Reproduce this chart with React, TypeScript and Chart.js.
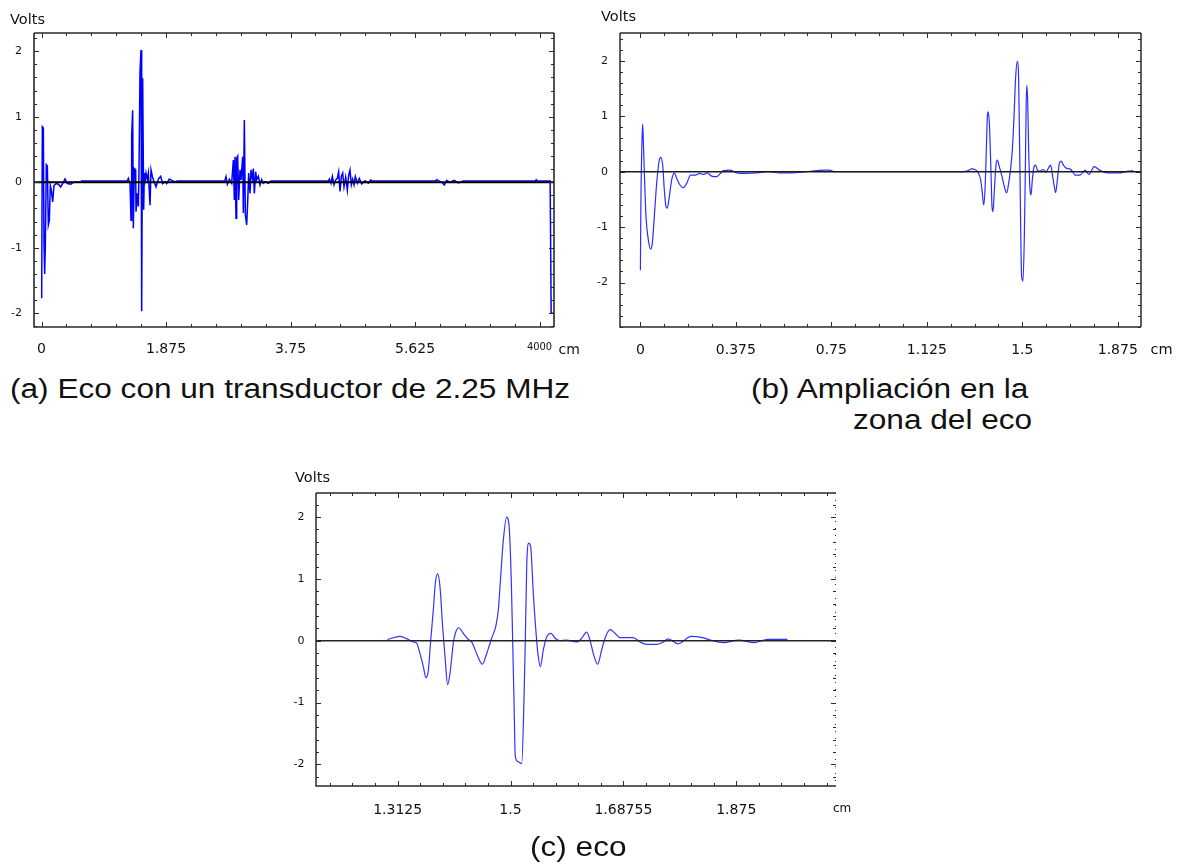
import React, { useEffect, useRef } from "react";
import { Chart, registerables } from "chart.js";

Chart.register(...registerables);

// ---------- shared tick labels ----------
const voltTicks = [-2, -1, 0, 1, 2];
const voltLabels = ["-2", "-1", "0", "1", "2"];

// ---------- (a) Eco con un transductor de 2.25 MHz ----------
const scanA_ticks = [0, 1.875, 3.75, 5.625, 7.5];
const scanA_tickLabels = ["0", "1.875", "3.75", "5.625", "4000"];
const scanA_cm = [
  0.0025, 0.0125, 0.0276, 0.0377, 0.0477, 0.0577, 0.0728, 0.0878, 0.1029, 0.118, 0.133, 0.148, 0.168, 0.188,
  0.218, 0.253, 0.289, 0.329, 0.354, 0.389, 0.44, 0.48, 0.6, 0.605, 1.29,
  1.3077, 1.3328, 1.3479, 1.3579, 1.373, 1.383, 1.3981, 1.4182, 1.4232, 1.4433, 1.4583, 1.4684, 1.4834,
  1.4985, 1.5085, 1.5236, 1.5387, 1.5487, 1.5637, 1.5738, 1.5939, 1.6089, 1.634, 1.6491, 1.6691, 1.6943,
  1.7244, 1.7595, 1.7947, 1.8248, 1.8599, 1.885, 1.9252, 1.9603, 2.0105, 2.05, 2.76,
  2.7786, 2.7986, 2.8288, 2.864, 2.889, 2.9041, 2.9142, 2.9292, 2.9393, 2.9543, 2.9694, 2.9895, 3.0045,
  3.0296, 3.0397, 3.0547, 3.0698, 3.0899, 3.1049, 3.12, 3.1401, 3.1551, 3.1752, 3.1902, 3.2053, 3.2254,
  3.2405, 3.2656, 3.2907, 3.3158, 3.3409, 3.366, 3.4162, 3.4413, 3.46, 4.32,
  4.3348, 4.36, 4.38, 4.405, 4.43, 4.455, 4.475, 4.4955, 4.5155, 4.5356, 4.5557, 4.5808, 4.6059, 4.626,
  4.646, 4.666, 4.686, 4.706, 4.726, 4.756, 4.786, 4.822, 4.872, 4.922, 4.957, 4.98, 5.94,
  5.951, 6.027, 6.066, 6.101, 6.152, 6.217, 6.277, 6.352, 6.503, 7.44, 7.45, 7.47, 7.66, 7.675, 7.718,
];
const scanA_volts = [
  -1.77, 0.85, 0.83, -0.95, -1.4, -0.96, 0.27, 0.25, -0.65, -0.58, -0.05, -0.12, -0.3, -0.05,
  -0.02, -0.03, -0.07, 0.0, 0.05, -0.02, -0.03, 0.0, 0.0, 0.02, 0.02,
  0.06, -0.02, -0.58, 0.7, 1.1, -0.7, 0.21, 0.19, -0.45, -0.17, -0.37, 0.19, 1.69,
  2.02, -1.97, 1.59, -0.42, 0.14, 0.04, 0.14, 0.04, 0.14, -0.35, 0.19, 0.09, 0.01,
  -0.07, 0.05, 0.09, -0.02, 0.01, -0.02, 0.05, 0.03, 0.01, 0.02, 0.02,
  0.087, -0.03, 0.046, -0.015, 0.34, -0.27, 0.39, -0.55, 0.37, 0.4, -0.27, 0.19, 0.036,
  0.39, -0.47, 0.95, -0.5, -0.65, -0.3, 0.14, -0.17, 0.19, 0.06, 0.21, -0.17, 0.16,
  0.04, 0.09, -0.04, 0.04, -0.015, 0.01, -0.015, 0.01, 0.02, 0.02,
  0.05, -0.015, 0.09, -0.04, 0.036, 0.06, 0.16, -0.14, 0.09, 0.14, -0.07, 0.08, -0.12, 0.11,
  0.19, -0.04, 0.046, -0.04, 0.09, -0.015, 0.06, -0.025, 0.025, -0.015, 0.035, 0.02, 0.02,
  0.04, 0.0, -0.04, 0.03, 0.0, 0.03, -0.01, 0.02, 0.02, 0.02, 0.04, 0.02, 0.02, -2.0, -2.0,
];

// ---------- (b) Ampliación en la zona del eco ----------
const zoomB_ticks = [0, 0.375, 0.75, 1.125, 1.5, 1.875];
const zoomB_tickLabels = ["0", "0.375", "0.75", "1.125", "1.5", "1.875"];
const zoomB_cm = [
  0.0, 0.002, 0.0063, 0.0089, 0.0115, 0.0154, 0.022, 0.0312, 0.0403, 0.0469, 0.0547, 0.0639, 0.0731,
  0.0796, 0.0875, 0.094, 0.1006, 0.1058, 0.1136, 0.1228, 0.1333, 0.1425, 0.1555, 0.1686, 0.1817, 0.1974,
  0.2145, 0.2341, 0.2472, 0.2629, 0.2799, 0.2996, 0.3126, 0.3257, 0.3519, 0.3781, 0.4174, 0.457, 0.5,
  0.546, 0.591, 0.65, 0.724, 0.742, 0.76, 1.27,
  1.288, 1.3011, 1.3142, 1.3273, 1.3365, 1.343, 1.3483, 1.3535, 1.3587, 1.3627, 1.3666, 1.3718, 1.3771,
  1.381, 1.3849, 1.3902, 1.3967, 1.4019, 1.4098, 1.419, 1.4294, 1.4386, 1.4464, 1.4543, 1.4608, 1.4674,
  1.4739, 1.4805, 1.4857, 1.4897, 1.4923, 1.4949, 1.4975, 1.5028, 1.508, 1.5119, 1.5145, 1.5171, 1.5211,
  1.525, 1.5302, 1.5342, 1.5394, 1.546, 1.5525, 1.559, 1.5695, 1.5826, 1.5931, 1.6022, 1.6114, 1.6193,
  1.6258, 1.6311, 1.6376, 1.6454, 1.652, 1.6612, 1.6743, 1.6873, 1.7004, 1.707, 1.727, 1.747, 1.762,
  1.782, 1.806, 1.838, 1.884, 1.916, 1.936,
];
const zoomB_volts = [
  -1.78, -0.55, 0.57, 0.86, 0.57, 0.0, -0.81, -1.23, -1.4, -1.29, -0.81, -0.21, 0.18,
  0.26, 0.12, -0.33, -0.63, -0.66, -0.45, -0.15, -0.02, -0.12, -0.24, -0.29, -0.21, -0.06,
  -0.06, -0.03, -0.05, -0.02, -0.08, -0.09, -0.04, 0.02, 0.03, -0.02, -0.03, -0.02, 0.0,
  -0.02, -0.02, 0.0, 0.03, 0.03, 0.0, 0.0,
  0.02, 0.05, 0.04, -0.02, -0.15, -0.39, -0.6, -0.33, 0.39, 0.99, 1.08, 0.75, -0.03,
  -0.63, -0.72, -0.33, 0.12, 0.21, 0.09, -0.06, -0.27, -0.38, -0.21, 0.06, 0.39, 0.99,
  1.71, 1.99, 1.65, 0.39, -0.51, -1.41, -1.9, -1.97, -1.17, 0.0, 0.99, 1.56, 1.29,
  0.39, -0.33, -0.42, -0.15, 0.09, 0.12, 0.03, 0.01, 0.04, -0.01, 0.06, 0.12, -0.09,
  -0.27, -0.38, -0.15, 0.15, 0.19, 0.12, 0.06, 0.05, -0.02, -0.06, -0.06, 0.03, -0.05,
  0.09, 0.02, -0.02, -0.02, 0.01, 0.02,
];

// ---------- (c) eco ----------
const ecoC_ticks = [1.3125, 1.5, 1.6875, 1.875];
const ecoC_tickLabels = ["1.3125", "1.5", "1.68755", "1.875"];
const ecoC_cm = [
  1.2954, 1.3164, 1.3303, 1.3386, 1.3441, 1.3497, 1.3552, 1.3596, 1.3635, 1.3674, 1.3718, 1.3751, 1.379,
  1.3829, 1.3873, 1.3912, 1.3956, 1.3995, 1.405, 1.4084, 1.4139, 1.4216, 1.43, 1.4355, 1.4438, 1.4532,
  1.4604, 1.4687, 1.4759, 1.4798, 1.4837, 1.4881, 1.4936, 1.4981, 1.5014, 1.5036, 1.5058, 1.508, 1.513,
  1.5186, 1.5224, 1.5246, 1.5269, 1.5302, 1.5335, 1.5379, 1.5435, 1.5462, 1.5496, 1.5545, 1.5601, 1.5673,
  1.5739, 1.5822, 1.5933, 1.6044, 1.611, 1.6182, 1.6265, 1.6321, 1.6376, 1.6448, 1.6514, 1.657, 1.6653,
  1.6736, 1.6819, 1.704, 1.7151, 1.7262, 1.7428, 1.7539, 1.762, 1.778, 1.8, 1.819, 1.832, 1.854, 1.879,
  1.905, 1.927, 1.96,
];
const ecoC_volts = [
  0.02, 0.07, 0.02, -0.02, -0.04, -0.21, -0.42, -0.6, -0.48, 0.0, 0.5, 0.93, 1.08,
  0.87, 0.22, -0.26, -0.71, -0.53, -0.04, 0.12, 0.21, 0.12, 0.02, -0.02, -0.21, -0.38,
  -0.21, 0.04, 0.25, 0.5, 1.04, 1.63, 2.0, 1.79, 0.93, 0.0, -0.96, -1.88, -1.96,
  -1.99, -0.96, 0.0, 1.19, 1.58, 1.52, 0.76, 0.0, -0.26, -0.42, -0.15, 0.06, 0.12,
  0.04, 0.0, 0.01, -0.01, -0.02, 0.04, 0.14, 0.01, -0.21, -0.38, -0.15, 0.04, 0.18,
  0.12, 0.05, 0.05, -0.02, -0.06, -0.06, -0.02, 0.03, -0.05, 0.07, 0.05, 0.01, -0.03, 0.01,
  -0.03, 0.02, 0.02,
];

// ---------- layout / style ----------
type Spec = {
  left: number; top: number; width: number; height: number;
  pl: number; pt: number; pr: number; pb: number;
  xMin: number; xMax: number; yMin: number; yMax: number;
  xTicks: number[]; xLabels: string[]; xMinor: number;
  xs: number[]; vs: number[];
  lineColor: string; lineWidth: number; smooth: boolean;
  zeroColor: string; zeroWidth: number;
  xPad: number; yPad: number; dottedRight: boolean; frameWidth: number;
  smallLast?: boolean;
};

const FONT = '"DejaVu Sans", Verdana, sans-serif';
const NARROW = '"DejaVu Sans Condensed", "Liberation Sans Narrow", "DejaVu Sans", sans-serif';

const framePlugin = {
  id: "frameTicks",
  afterDatasetsDraw(chart: any, _args: any, o: any) {
    const { ctx, chartArea: a } = chart;
    const xs = chart.scales.x;
    const ys = chart.scales.y;
    ctx.save();
    ctx.strokeStyle = "#2a2a2a";
    ctx.lineWidth = o.frameWidth;
    ctx.beginPath();
    ctx.moveTo(a.left, a.top);
    ctx.lineTo(a.right, a.top);
    ctx.moveTo(a.left, a.top);
    ctx.lineTo(a.left, a.bottom);
    ctx.lineTo(a.right, a.bottom);
    if (!o.dottedRight) {
      ctx.moveTo(a.right, a.top);
      ctx.lineTo(a.right, a.bottom);
    }
    ctx.stroke();
    if (o.dottedRight) {
      ctx.setLineDash([1, 6]);
      ctx.lineWidth = 1;
      ctx.beginPath();
      ctx.moveTo(a.right - 0.5, a.top);
      ctx.lineTo(a.right - 0.5, a.bottom);
      ctx.stroke();
      ctx.setLineDash([]);
    }
    ctx.lineWidth = 1;
    ctx.beginPath();
    const xStep = o.xMajorStep / o.xMinor;
    for (let k = Math.ceil(xs.min / xStep - 1e-9); k * xStep <= xs.max + 1e-9; k++) {
      const v = k * xStep;
      const r = v / o.xMajorStep;
      const major = Math.abs(r - Math.round(r)) < 1e-6;
      const len = major ? 5 : 3;
      const px = Math.round(xs.getPixelForValue(v)) + 0.5;
      ctx.moveTo(px, a.bottom);
      ctx.lineTo(px, a.bottom - len);
      ctx.moveTo(px, a.top);
      ctx.lineTo(px, a.top + len);
    }
    const yStep = 0.2;
    for (let k = Math.ceil(ys.min / yStep - 1e-9); k * yStep <= ys.max + 1e-9; k++) {
      const v = k * yStep;
      const major = Math.abs(v - Math.round(v)) < 1e-6;
      const len = major ? 5 : 3;
      const py = Math.round(ys.getPixelForValue(v)) + 0.5;
      ctx.moveTo(a.left, py);
      ctx.lineTo(a.left + len, py);
      ctx.moveTo(a.right, py);
      ctx.lineTo(a.right - len, py);
    }
    ctx.stroke();
    ctx.restore();
  },
};

function buildConfig(s: Spec): any {
  const pts = s.xs.map((x, i) => ({ x, y: s.vs[i] }));
  const majorStep = s.xTicks[1] - s.xTicks[0];
  return {
    type: "scatter",
    data: {
      datasets: [
        {
          data: [{ x: s.xMin, y: 0 }, { x: s.xMax, y: 0 }],
          showLine: true, borderColor: s.zeroColor, borderWidth: s.zeroWidth,
          pointRadius: 0, order: 0,
        },
        {
          data: pts, showLine: true, borderColor: s.lineColor, borderWidth: s.lineWidth,
          pointRadius: 0, order: 1,
          tension: s.smooth ? 0.4 : 0,
          cubicInterpolationMode: s.smooth ? "monotone" : "default",
        },
      ],
    },
    options: {
      animation: false,
      responsive: false,
      events: [],
      layout: { padding: { left: 0, top: s.pt, right: s.width - s.pr, bottom: 0 } },
      plugins: {
        legend: { display: false },
        tooltip: { enabled: false },
        frameTicks: { dottedRight: s.dottedRight, xMajorStep: majorStep, xMinor: s.xMinor, frameWidth: s.frameWidth },
      },
      scales: {
        x: {
          type: "linear", min: s.xMin, max: s.xMax,
          grid: { display: false, drawTicks: false },
          border: { display: false },
          afterBuildTicks: (sc: any) => { sc.ticks = s.xTicks.map((v) => ({ value: v })); },
          afterFit: (sc: any) => { sc.height = s.height - s.pb; },
          ticks: {
            autoSkip: false, maxRotation: 0, minRotation: 0, padding: s.xPad, color: "#111",
            font: (c: any) =>
              s.smallLast && c.index === s.xTicks.length - 1
                ? { family: NARROW, size: 11 }
                : { family: FONT, size: 14 },
            callback: (_v: any, i: number) => s.xLabels[i],
          },
        },
        y: {
          type: "linear", min: s.yMin, max: s.yMax,
          grid: { display: false, drawTicks: false },
          border: { display: false },
          afterBuildTicks: (sc: any) => { sc.ticks = voltTicks.map((v) => ({ value: v })); },
          afterFit: (sc: any) => { sc.width = s.pl; },
          ticks: {
            autoSkip: false, padding: s.yPad, color: "#111",
            font: { family: FONT, size: 11 },
            callback: (_v: any, i: number) => voltLabels[i],
          },
        },
      },
    },
    plugins: [framePlugin],
  };
}

const panelA: Spec = {
  left: 0, top: 0, width: 600, height: 370,
  pl: 34, pt: 33, pr: 554, pb: 327,
  xMin: -0.113, xMax: 7.718, yMin: -2.209, yMax: 2.279,
  xTicks: scanA_ticks, xLabels: scanA_tickLabels, xMinor: 5,
  xs: scanA_cm, vs: scanA_volts,
  lineColor: "#0000ff", lineWidth: 1.5, smooth: false,
  zeroColor: "#000000", zeroWidth: 2,
  xPad: 14, yPad: 12, dottedRight: false, frameWidth: 1.6, smallLast: true,
};

const panelB: Spec = {
  left: 590, top: 0, width: 594, height: 370,
  pl: 30, pt: 33, pr: 551, pb: 327,
  xMin: -0.0801, xMax: 1.9662, yMin: -2.803, yMax: 2.5036,
  xTicks: zoomB_ticks, xLabels: zoomB_tickLabels, xMinor: 4,
  xs: zoomB_cm, vs: zoomB_volts,
  lineColor: "#2d2dff", lineWidth: 1.2, smooth: true,
  zeroColor: "#1a1a1a", zeroWidth: 1.5,
  xPad: 14.5, yPad: 12, dottedRight: false, frameWidth: 1.5,
};

const panelC: Spec = {
  left: 280, top: 460, width: 580, height: 380,
  pl: 36, pt: 33, pr: 556, pb: 326,
  xMin: 1.1769, xMax: 2.0407, yMin: -2.351, yMax: 2.39,
  xTicks: ecoC_ticks, xLabels: ecoC_tickLabels, xMinor: 5,
  xs: ecoC_cm, vs: ecoC_volts,
  lineColor: "#3333ff", lineWidth: 1.2, smooth: true,
  zeroColor: "#222222", zeroWidth: 1.5,
  xPad: 15.5, yPad: 11.6, dottedRight: true, frameWidth: 1.5,
};

function Panel({ spec }: { spec: Spec }) {
  const ref = useRef<HTMLCanvasElement>(null);
  useEffect(() => {
    const chart = new Chart(ref.current as HTMLCanvasElement, buildConfig(spec));
    return () => chart.destroy();
  }, [spec]);
  return (
    <canvas
      ref={ref}
      width={spec.width}
      height={spec.height}
      style={{ position: "absolute", left: spec.left, top: spec.top, width: spec.width, height: spec.height }}
    />
  );
}

function Txt(props: { x: number; y: number; size: number; family?: string; sx?: number; children: React.ReactNode }) {
  return (
    <div
      style={{
        position: "absolute", left: props.x, top: props.y, fontSize: props.size, lineHeight: 1,
        fontFamily: props.family || FONT, color: "#111", whiteSpace: "nowrap",
        transform: props.sx ? `scaleX(${props.sx})` : undefined, transformOrigin: "left top",
      }}
    >
      {props.children}
    </div>
  );
}

const CAP = '"Liberation Sans", Arial, sans-serif';

export default function App() {
  return (
    <div style={{ position: "absolute", left: 0, top: 0, width: 1184, height: 867, background: "#fff", overflow: "hidden" }}>
      <Panel spec={panelA} />
      <Panel spec={panelB} />
      <Panel spec={panelC} />
      <Txt x={10} y={11.5} size={14.5}>Volts</Txt>
      <Txt x={558.5} y={342} size={14}>cm</Txt>
      <Txt x={601} y={8.6} size={14.5}>Volts</Txt>
      <Txt x={1150.5} y={341.5} size={14.5}>cm</Txt>
      <Txt x={295} y={469.5} size={14.5}>Volts</Txt>
      <Txt x={833} y={802} size={12}>cm</Txt>
      <Txt x={10} y={375.5} size={27} family={CAP} sx={1.17}>(a) Eco con un transductor de 2.25 MHz</Txt>
      <Txt x={751} y={375.5} size={27} family={CAP} sx={1.17}>(b) Ampliación en la</Txt>
      <Txt x={853} y={406.5} size={27} family={CAP} sx={1.17}>zona del eco</Txt>
      <Txt x={530} y={834} size={27} family={CAP} sx={1.17}>(c) eco</Txt>
    </div>
  );
}
